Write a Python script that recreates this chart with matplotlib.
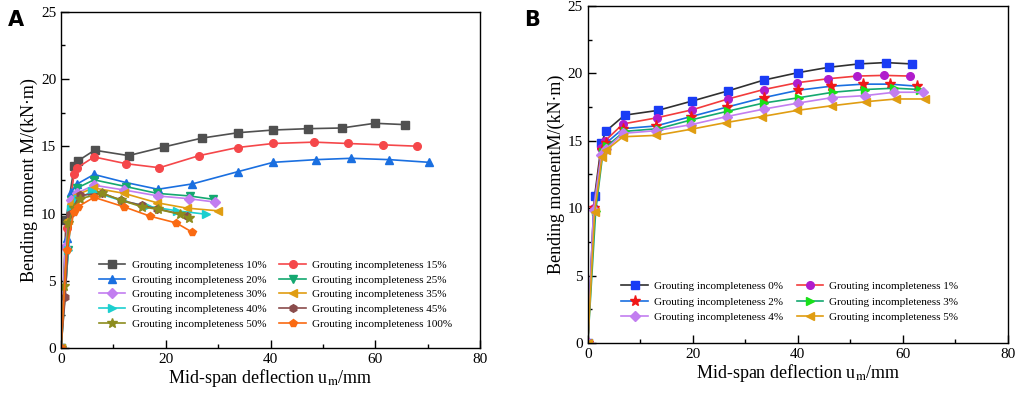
import numpy as np
import matplotlib
matplotlib.use("Agg")
import matplotlib.pyplot as plt
from matplotlib.ticker import MultipleLocator

plt.rcParams["font.family"] = ["Liberation Serif", "DejaVu Serif"]
plt.rcParams["mathtext.fontset"] = "stix"

# ---- panel A: grouting incompleteness 10% .. 100%
A_labels = ["10%", "15%", "20%", "25%", "30%", "35%", "40%", "45%", "50%", "100%"]
A_x = [
    [0, 0.95, 2.5, 3.2, 6.4, 12.9, 19.7, 26.9, 33.8, 40.5, 47.2, 53.6, 59.9, 65.7],
    [0, 1.1, 2.5, 3.1, 6.3, 12.4, 18.8, 26.4, 33.7, 40.5, 48.3, 54.7, 61.4, 67.9],
    [0, 1.1, 2.0, 3.1, 6.3, 12.4, 18.5, 25.1, 33.7, 40.5, 48.7, 55.4, 62.7, 70.3],
    [0, 1.4, 1.9, 3.1, 6.3, 12.4, 18.3, 24.6, 29.1],
    [0, 0.8, 2.0, 3.0, 6.3, 12.0, 18.6, 24.4, 29.4],
    [0, 1.4, 1.9, 3.1, 6.2, 12.0, 18.3, 24.0, 30.0],
    [0, 1.4, 2.0, 3.3, 6.0, 11.9, 16.5, 22.1, 27.6],
    [0, 0.8, 1.7, 3.6, 7.9, 11.4, 15.4, 18.4, 24.0],
    [0, 0.6, 1.4, 2.4, 3.6, 7.9, 11.4, 15.4, 18.6, 22.7, 24.4],
    [0, 1.1, 2.4, 3.2, 6.3, 12.0, 17.0, 22.0, 25.1],
]
A_y = [
    [0, 9.5, 13.5, 13.9, 14.7, 14.3, 14.95, 15.6, 16.0, 16.2, 16.3, 16.35, 16.7, 16.6],
    [0, 8.9, 12.95, 13.4, 14.2, 13.7, 13.4, 14.3, 14.9, 15.2, 15.3, 15.2, 15.1, 15.0],
    [0, 8.2, 11.6, 12.2, 12.9, 12.3, 11.8, 12.2, 13.1, 13.8, 14.0, 14.1, 14.0, 13.8],
    [0, 7.3, 11.0, 11.9, 12.5, 12.0, 11.5, 11.3, 11.05],
    [0, 7.5, 11.0, 11.5, 12.1, 11.75, 11.3, 11.1, 10.85],
    [0, 9.5, 10.7, 11.4, 11.9, 11.5, 10.8, 10.4, 10.2],
    [0, 7.3, 10.3, 11.1, 11.65, 10.9, 10.55, 10.2, 9.95],
    [0, 3.8, 10.0, 11.35, 11.5, 11.0, 10.6, 10.35, 9.85],
    [0, 4.6, 9.3, 10.4, 11.1, 11.5, 11.0, 10.5, 10.3, 9.95, 9.7],
    [0, 7.3, 10.1, 10.5, 11.2, 10.5, 9.8, 9.3, 8.6],
]
A_colors = ["#505050", "#f5474a", "#1a6fe0", "#14a870", "#c27ef0",
            "#e09d12", "#1ccfcf", "#8a4c4c", "#8c8c1e", "#fa6a12"]
A_markers = ["s", "o", "^", "v", "D", "<", ">", "h", "*", "p"]

# ---- panel B: grouting incompleteness 0% .. 5%
B_labels = ["0%", "1%", "2%", "3%", "4%", "5%"]
B_x = [
    [0, 1.3, 2.6, 3.4, 7.0, 13.3, 19.9, 26.7, 33.5, 40.0, 45.9, 51.6, 56.7, 61.7],
    [0, 1.1, 2.6, 3.3, 6.7, 13.1, 19.9, 26.7, 33.5, 39.8, 45.7, 51.3, 56.4, 61.3],
    [0, 1.1, 2.7, 3.4, 6.7, 13.0, 19.7, 26.5, 33.5, 40.1, 46.4, 52.5, 57.5, 62.7],
    [0, 1.5, 2.9, 3.6, 7.0, 13.5, 19.7, 26.7, 33.5, 40.3, 46.7, 52.7, 58.4, 63.3],
    [0, 1.1, 2.6, 3.5, 6.7, 13.0, 19.7, 26.5, 33.5, 40.1, 46.5, 52.8, 58.4, 63.9],
    [0, 1.3, 2.7, 3.5, 6.7, 13.0, 19.6, 26.3, 33.2, 39.8, 46.5, 53.0, 58.7, 64.3],
]
B_y = [
    [0, 10.9, 14.8, 15.7, 16.9, 17.25, 17.95, 18.7, 19.5, 20.05, 20.45, 20.7, 20.8, 20.7],
    [0, 10.0, 14.45, 15.0, 16.25, 16.7, 17.3, 18.1, 18.8, 19.3, 19.6, 19.8, 19.85, 19.8],
    [0, 10.0, 14.3, 14.8, 15.9, 16.1, 16.8, 17.5, 18.2, 18.75, 19.05, 19.2, 19.2, 19.05],
    [0, 9.8, 14.2, 14.6, 15.7, 15.9, 16.55, 17.2, 17.8, 18.2, 18.6, 18.8, 18.9, 18.8],
    [0, 9.9, 13.95, 14.4, 15.55, 15.75, 16.2, 16.8, 17.35, 17.8, 18.2, 18.35, 18.6, 18.6],
    [0, 9.7, 13.8, 14.3, 15.3, 15.4, 15.85, 16.35, 16.8, 17.25, 17.6, 17.9, 18.1, 18.1],
]
B_line_colors = ["#303030", "#f23c3c", "#1a6fe0", "#14a870", "#c27ef0", "#e09d12"]
B_marker_colors = ["#1a3cf5", "#b01ccc", "#f01818", "#18e018", "#c27ef0", "#e09d12"]
B_markers = ["s", "o", "*", ">", "D", "<"]


def style_axes(ax, ylabel):
    ax.set_xlim(0, 80)
    ax.set_ylim(0, 25)
    ax.xaxis.set_major_locator(MultipleLocator(20))
    ax.xaxis.set_minor_locator(MultipleLocator(10))
    ax.yaxis.set_major_locator(MultipleLocator(5))
    ax.yaxis.set_minor_locator(MultipleLocator(2.5))
    ax.tick_params(which="major", direction="in", length=6, width=1, labelsize=11,
                   top=False, right=False)
    ax.tick_params(which="minor", direction="in", length=3, width=1,
                   top=False, right=False)
    for s in ax.spines.values():
        s.set_linewidth(1.0)
    ax.set_xlabel(r"Mid-span deflection u$_\mathrm{m}$/mm", fontsize=13, labelpad=1)
    ax.set_ylabel(ylabel, fontsize=13, labelpad=2)


def row_legend(ax, ncol, anchor, spacing):
    # matplotlib fills legend columns first; reorder so entries run along rows
    h, l = ax.get_legend_handles_labels()
    order = [i for c in range(ncol) for i in range(c, len(h), ncol)]
    ax.legend([h[i] for i in order], [l[i] for i in order], loc="upper left",
              bbox_to_anchor=anchor, ncol=ncol, frameon=False, borderaxespad=0,
              borderpad=0, fontsize=8, handlelength=2.4, columnspacing=1.2,
              labelspacing=spacing, handletextpad=0.55)


fig = plt.figure(figsize=(10.17, 3.97), dpi=100)

axA = fig.add_axes([0.060, 0.123, 0.412, 0.848])
for i in range(len(A_labels)):
    ms = 5.5 if A_markers[i] != "*" else 7
    axA.plot(A_x[i], A_y[i], color=A_colors[i], marker=A_markers[i], ms=ms,
             lw=1.2, label="Grouting incompleteness " + A_labels[i])
style_axes(axA, "Bending moment M/(kN·m)")
row_legend(axA, 2, (0.09, 0.262), 0.45)
fig.text(0.008, 0.935, "A", fontsize=15, fontweight="bold", family="DejaVu Sans")

axB = fig.add_axes([0.578, 0.136, 0.413, 0.849])
for i in range(len(B_labels)):
    ms = 5.5 if B_markers[i] != "*" else 8
    axB.plot(B_x[i], B_y[i], color=B_line_colors[i], marker=B_markers[i], ms=ms,
             mfc=B_marker_colors[i], mec=B_marker_colors[i], lw=1.2,
             label="Grouting incompleteness " + B_labels[i])
style_axes(axB, "Bending momentM/(kN·m)")
row_legend(axB, 2, (0.08, 0.183), 0.52)
fig.text(0.515, 0.935, "B", fontsize=15, fontweight="bold", family="DejaVu Sans")

fig.savefig("out.png", dpi=100)
plt.close(fig)
